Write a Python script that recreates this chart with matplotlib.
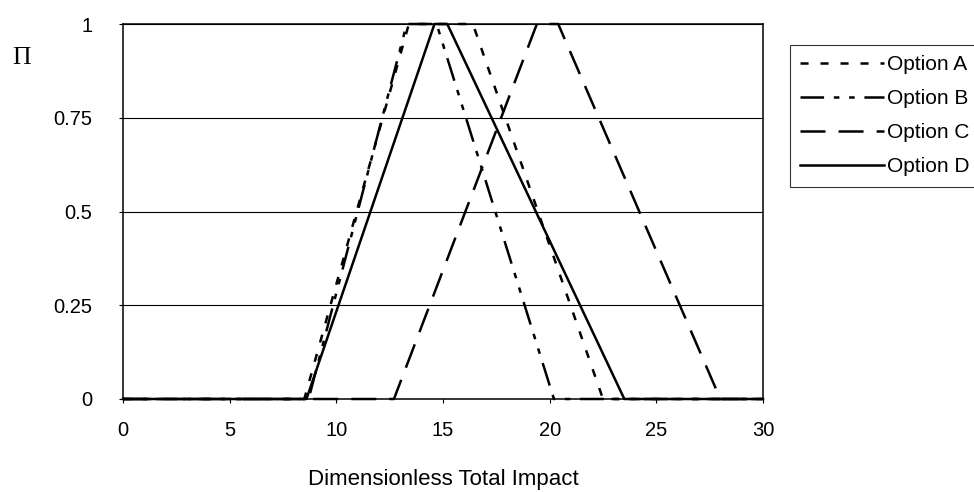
import matplotlib
matplotlib.use("Agg")
import matplotlib.pyplot as plt

plt.rcParams["font.family"] = ["Liberation Sans", "DejaVu Sans"]
plt.rcParams["lines.scale_dashes"] = False

# break points of each option's possibility distribution (x), Π at those points
impact_a = [0, 8.5, 13.4, 16.4, 22.5, 30]
impact_b = [0, 8.7, 13.3, 14.7, 20.2, 30]
impact_c = [0, 12.7, 19.4, 20.4, 28.0, 30]
impact_d = [0, 8.6, 14.6, 15.2, 23.5, 30]
pi_vals = [0, 0, 1, 1, 0, 0]
labels = ["Option A", "Option B", "Option C", "Option D"]
x_ticks = [0, 5, 10, 15, 20, 25, 30]
y_ticks = [0, 0.25, 0.5, 0.75, 1]
y_ticklabels = ["0", "0.25", "0.5", "0.75", "1"]

# dash patterns in points: short dash / long-short-short / long dash / solid
styles = [(0, (5.8, 8.6)), (0, (17, 7, 4, 7, 4, 7)), (0, (18, 9.4)), "-"]

fig = plt.figure(figsize=(9.74, 4.92), dpi=100)
ax = fig.add_axes([123 / 974, 93 / 492, 640 / 974, 375 / 492])

handles = []
for xs, ls, lab in zip([impact_a, impact_b, impact_c, impact_d], styles, labels):
    h, = ax.plot(xs, pi_vals, color="black", lw=1.8, linestyle=ls, label=lab,
                 dash_capstyle="butt", clip_on=False)
    handles.append(h)

ax.set_xlim(0, 30); ax.set_ylim(0, 1)
ax.set_xticks(x_ticks)
ax.set_yticks(y_ticks); ax.set_yticklabels(y_ticklabels)
ax.yaxis.grid(True, color="black", lw=0.8)
ax.set_axisbelow(True)
for sp in ax.spines.values():
    sp.set_linewidth(1.1)
ax.tick_params(axis="both", direction="out", length=3, width=0.8, labelsize=14.5)
ax.tick_params(axis="x", pad=13)
ax.tick_params(axis="y", pad=19)

fig.text(22 / 974, 1 - 58 / 492, "Π", family=["Liberation Serif", "DejaVu Serif"],
         fontsize=18.5, ha="center", va="center")
fig.text(443 / 974, 7 / 492, "Dimensionless Total Impact", fontsize=16,
         ha="center", va="baseline")

leg = fig.legend(handles, labels, loc="upper left", bbox_to_anchor=(790 / 974, 1 - 45 / 492),
                 frameon=True, fancybox=False, edgecolor="black", fontsize=15,
                 handlelength=4.0, handletextpad=0.15, borderpad=0.5,
                 labelspacing=0.72, borderaxespad=0)
leg.get_frame().set_linewidth(0.8)

fig.savefig("out.png", dpi=100)
